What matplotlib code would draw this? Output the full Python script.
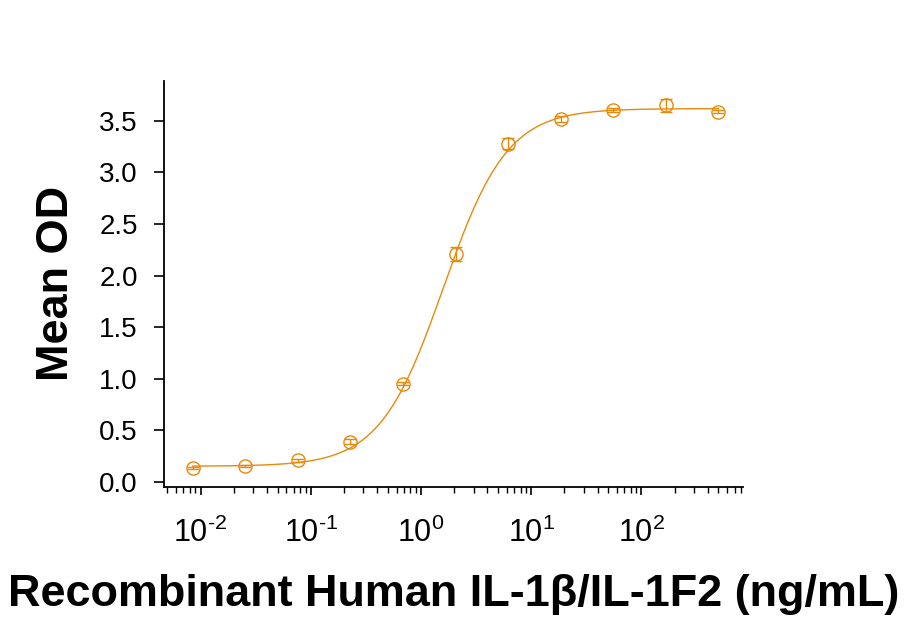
import numpy as np
import matplotlib
matplotlib.use('Agg')
import matplotlib.pyplot as plt

# ─── Data ───
conc = [0.00847, 0.0254, 0.0762, 0.229, 0.686, 2.06, 6.17, 18.5, 55.6, 166.7, 500.0]
mean_od = [0.13, 0.15, 0.21, 0.39, 0.95, 2.21, 3.28, 3.52, 3.61, 3.65, 3.59]
od_err = [0.01, 0.01, 0.015, 0.02, 0.015, 0.065, 0.05, 0.03, 0.02, 0.065, 0.015]
xtick_pos = [1e-2, 1e-1, 1e0, 1e1, 1e2]
xtick_exp = ['-2', '-1', '0', '1', '2']

# 4PL fit parameters estimated from the drawn curve
fit_bottom, fit_top, fit_ec50, fit_hill = 0.15, 3.62, 1.6, 1.5

color = '#E8890C'

plt.rcParams['font.family'] = ['Liberation Sans', 'DejaVu Sans']
plt.rcParams['axes.unicode_minus'] = False

fig = plt.figure(figsize=(9.07, 6.21), dpi=100)
ax = fig.add_axes([0.181, 0.216, 0.638, 0.654])

# fitted curve across the data range
xf = np.logspace(np.log10(conc[0]), np.log10(conc[-1]), 300)
yf = fit_bottom + (fit_top - fit_bottom) / (1 + (fit_ec50 / xf) ** fit_hill)
ax.plot(xf, yf, color=color, lw=1.0)

ax.errorbar(conc, mean_od, yerr=od_err, fmt='o', mfc='none', mec=color,
            ms=9.5, mew=1.0, ecolor=color, elinewidth=1.0, capsize=4.5, capthick=1.0)

ax.set_xscale('log')
ax.set_xlim(10 ** -2.33, 10 ** 2.92)
ax.set_ylim(-0.05, 3.89)
ax.set_yticks(np.arange(0, 3.6, 0.5))
ax.set_yticklabels([f'{v:.1f}' for v in np.arange(0, 3.6, 0.5)])
ax.set_xticks(xtick_pos)
# hyphen (U+2010) keeps the plain dash look of the original exponents
ax.set_xticklabels([r'$\mathdefault{10^{%s}}$' % e.replace('-', '\u2010') for e in xtick_exp])

for s in ['top', 'right']:
    ax.spines[s].set_visible(False)
for s in ['left', 'bottom']:
    ax.spines[s].set_linewidth(1.3)

ax.tick_params(axis='y', which='major', length=7, width=1.2, pad=12, labelsize=20)
ax.tick_params(axis='x', which='major', length=6, width=1.2, pad=16, labelsize=22)
ax.tick_params(axis='x', which='minor', length=4, width=1.0)

ax.set_xlabel('Recombinant Human IL-1β/IL-1F2 (ng/mL)', fontsize=32.4,
              fontweight='bold', labelpad=18)
ax.set_ylabel('Mean OD', fontsize=32.5, fontweight='bold', labelpad=16)

plt.savefig('out.png', dpi=100)
plt.close()
